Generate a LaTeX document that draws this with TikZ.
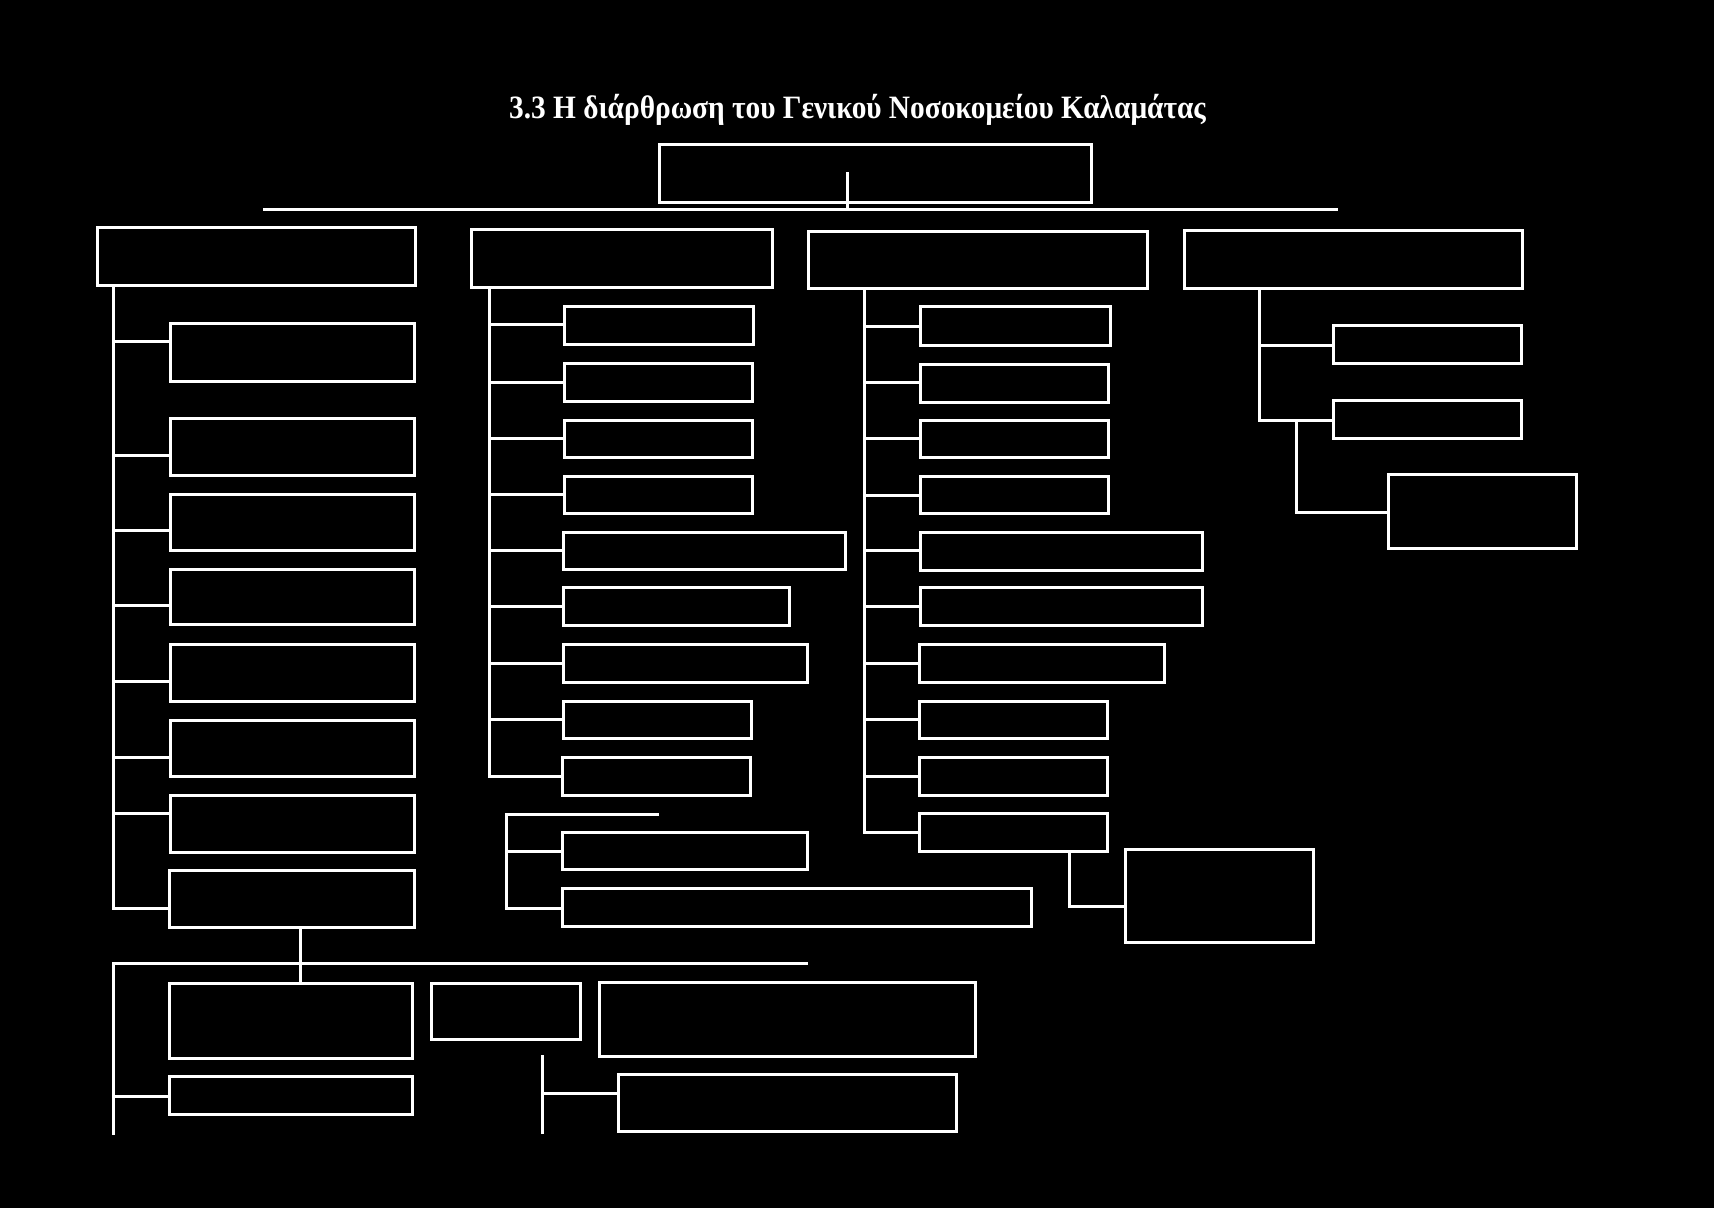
\documentclass[tikz,border=0pt]{standalone}
\usepackage{fontspec}
\setmainfont{Liberation Serif}
\usetikzlibrary{fit}
\newcommand\mkbox[5]{\node[bx, fit={(#2,#3) (#4,#5)}] (#1) {};}
\newcommand\brn[3]{\coordinate (#1) at (#2); \draw[ln] (#1) -- (#1 -| #3.west);}
\begin{document}
\begin{tikzpicture}[x=0.5pt,y=-0.5pt,
  bx/.style={draw=white, line width=1.5pt, inner sep=0pt, rectangle},
  ln/.style={draw=white, line width=1.5pt, line cap=rect}]
\fill[black] (0,0) rectangle (1714,1208);
\useasboundingbox (0,0) rectangle (1714,1208);
% title
\node[anchor=base, text=white, inner sep=0pt, font=\bfseries\fontsize{16.3}{19}\selectfont] (title) at (857.5,119)
  {\scalebox{0.9}[1]{3.3 Η διάρθρωση του Γενικού Νοσοκομείου Καλαμάτας}};
% top box
\mkbox{T}{659}{145}{1091}{203}
\coordinate (tv) at (847,174);
\coordinate (tline) at (847,210);
\draw[ln] (tv) -- (tline);
\coordinate (hl) at (264,210);
\coordinate (hr) at (1336,210);
\draw[ln] (hl) -- (hr);
% level 1
\mkbox{A}{97}{228}{415}{286}
\mkbox{B}{471}{230}{772}{288}
\mkbox{C}{808}{232}{1147}{289}
\mkbox{D}{1184}{231}{1522}{289}
% column A
\mkbox{A1}{170}{324}{414}{382}
\mkbox{A2}{170}{419}{414}{476}
\mkbox{A3}{170}{495}{414}{551}
\mkbox{A4}{170}{569}{414}{624}
\mkbox{A5}{170}{644}{414}{701}
\mkbox{A6}{170}{720}{414}{776}
\mkbox{A7}{170}{795}{414}{852}
\mkbox{A8}{169}{870}{414}{927}
\brn{a1}{113,342}{A1}
\brn{a2}{113,456}{A2}
\brn{a3}{113,531}{A3}
\brn{a4}{113,605}{A4}
\brn{a5}{113,681}{A5}
\brn{a6}{113,757}{A6}
\brn{a7}{113,813}{A7}
\brn{a8}{113,908}{A8}
\draw[ln] (A.south -| a8) -- (a8);
% column B
\mkbox{B1}{564}{307}{753}{345}
\mkbox{B2}{564}{364}{752}{402}
\mkbox{B3}{564}{421}{752}{458}
\mkbox{B4}{564}{477}{752}{514}
\mkbox{B5}{563}{533}{845}{569}
\mkbox{B6}{563}{587}{789}{625}
\mkbox{B7}{563}{644}{807}{682}
\mkbox{B8}{563}{701}{751}{738}
\mkbox{B9}{562}{757}{750}{795}
\brn{b1}{489,325}{B1}
\brn{b2}{489,383}{B2}
\brn{b3}{489,439}{B3}
\brn{b4}{489,495}{B4}
\brn{b5}{489,551}{B5}
\brn{b6}{489,606}{B6}
\brn{b7}{489,663}{B7}
\brn{b8}{489,719}{B8}
\brn{b9}{489,776}{B9}
\draw[ln] (B.south -| b9) -- (b9);
% group under B
\mkbox{B10}{562}{832}{807}{869}
\mkbox{B11}{562}{888}{1031}{926}
\coordinate (bt) at (506,814);
\coordinate (btr) at (657,814);
\brn{b10}{506,851}{B10}
\brn{b11}{506,908}{B11}
\draw[ln] (btr) -- (bt) -- (b11);
% column C
\mkbox{C1}{920}{307}{1110}{346}
\mkbox{C2}{920}{365}{1108}{403}
\mkbox{C3}{920}{421}{1108}{458}
\mkbox{C4}{920}{477}{1108}{514}
\mkbox{C5}{920}{533}{1202}{570}
\mkbox{C6}{920}{587}{1202}{625}
\mkbox{C7}{919}{644}{1164}{682}
\mkbox{C8}{919}{701}{1107}{738}
\mkbox{C9}{919}{757}{1107}{795}
\mkbox{C10}{919}{813}{1107}{851}
\brn{c1}{864,327}{C1}
\brn{c2}{864,383}{C2}
\brn{c3}{864,439}{C3}
\brn{c4}{864,496}{C4}
\brn{c5}{864,551}{C5}
\brn{c6}{864,606}{C6}
\brn{c7}{864,663}{C7}
\brn{c8}{864,719}{C8}
\brn{c9}{864,776}{C9}
\brn{c10}{864,832}{C10}
\draw[ln] (C.south -| c10) -- (c10);
\mkbox{C11}{1125}{849}{1313}{942}
\coordinate (c11) at (1069,906);
\draw[ln] (C10.south -| c11) -- (c11) -- (c11 -| C11.west);
% column D
\mkbox{D1}{1333}{326}{1521}{364}
\mkbox{D2}{1333}{401}{1521}{439}
\mkbox{D3}{1388}{475}{1576}{549}
\brn{d1}{1259,346}{D1}
\brn{d2}{1259,421}{D2}
\draw[ln] (D.south -| d2) -- (d2);
\coordinate (d3a) at (1296,421);
\coordinate (d3) at (1296,513);
\draw[ln] (d3a) -- (d3) -- (d3 -| D3.west);
% bottom section
\mkbox{G1}{169}{983}{412}{1058}
\mkbox{G3}{431}{983}{580}{1039}
\mkbox{G4}{599}{982}{975}{1056}
\mkbox{G2}{169}{1076}{412}{1114}
\mkbox{G5}{618}{1074}{956}{1131}
\coordinate (gv) at (300,963);
\draw[ln] (A8.south -| gv) -- (G1.north -| gv);
\coordinate (gl) at (113,963);
\coordinate (gr) at (806,963);
\draw[ln] (gl) -- (gr);
\coordinate (gb) at (113,1133);
\brn{g2}{113,1096}{G2}
\draw[ln] (gl) -- (gb);
\coordinate (mv1) at (542,1056);
\coordinate (mv2) at (542,1132);
\draw[ln] (mv1) -- (mv2);
\brn{g5}{542,1093}{G5}
\end{tikzpicture}
\end{document}
